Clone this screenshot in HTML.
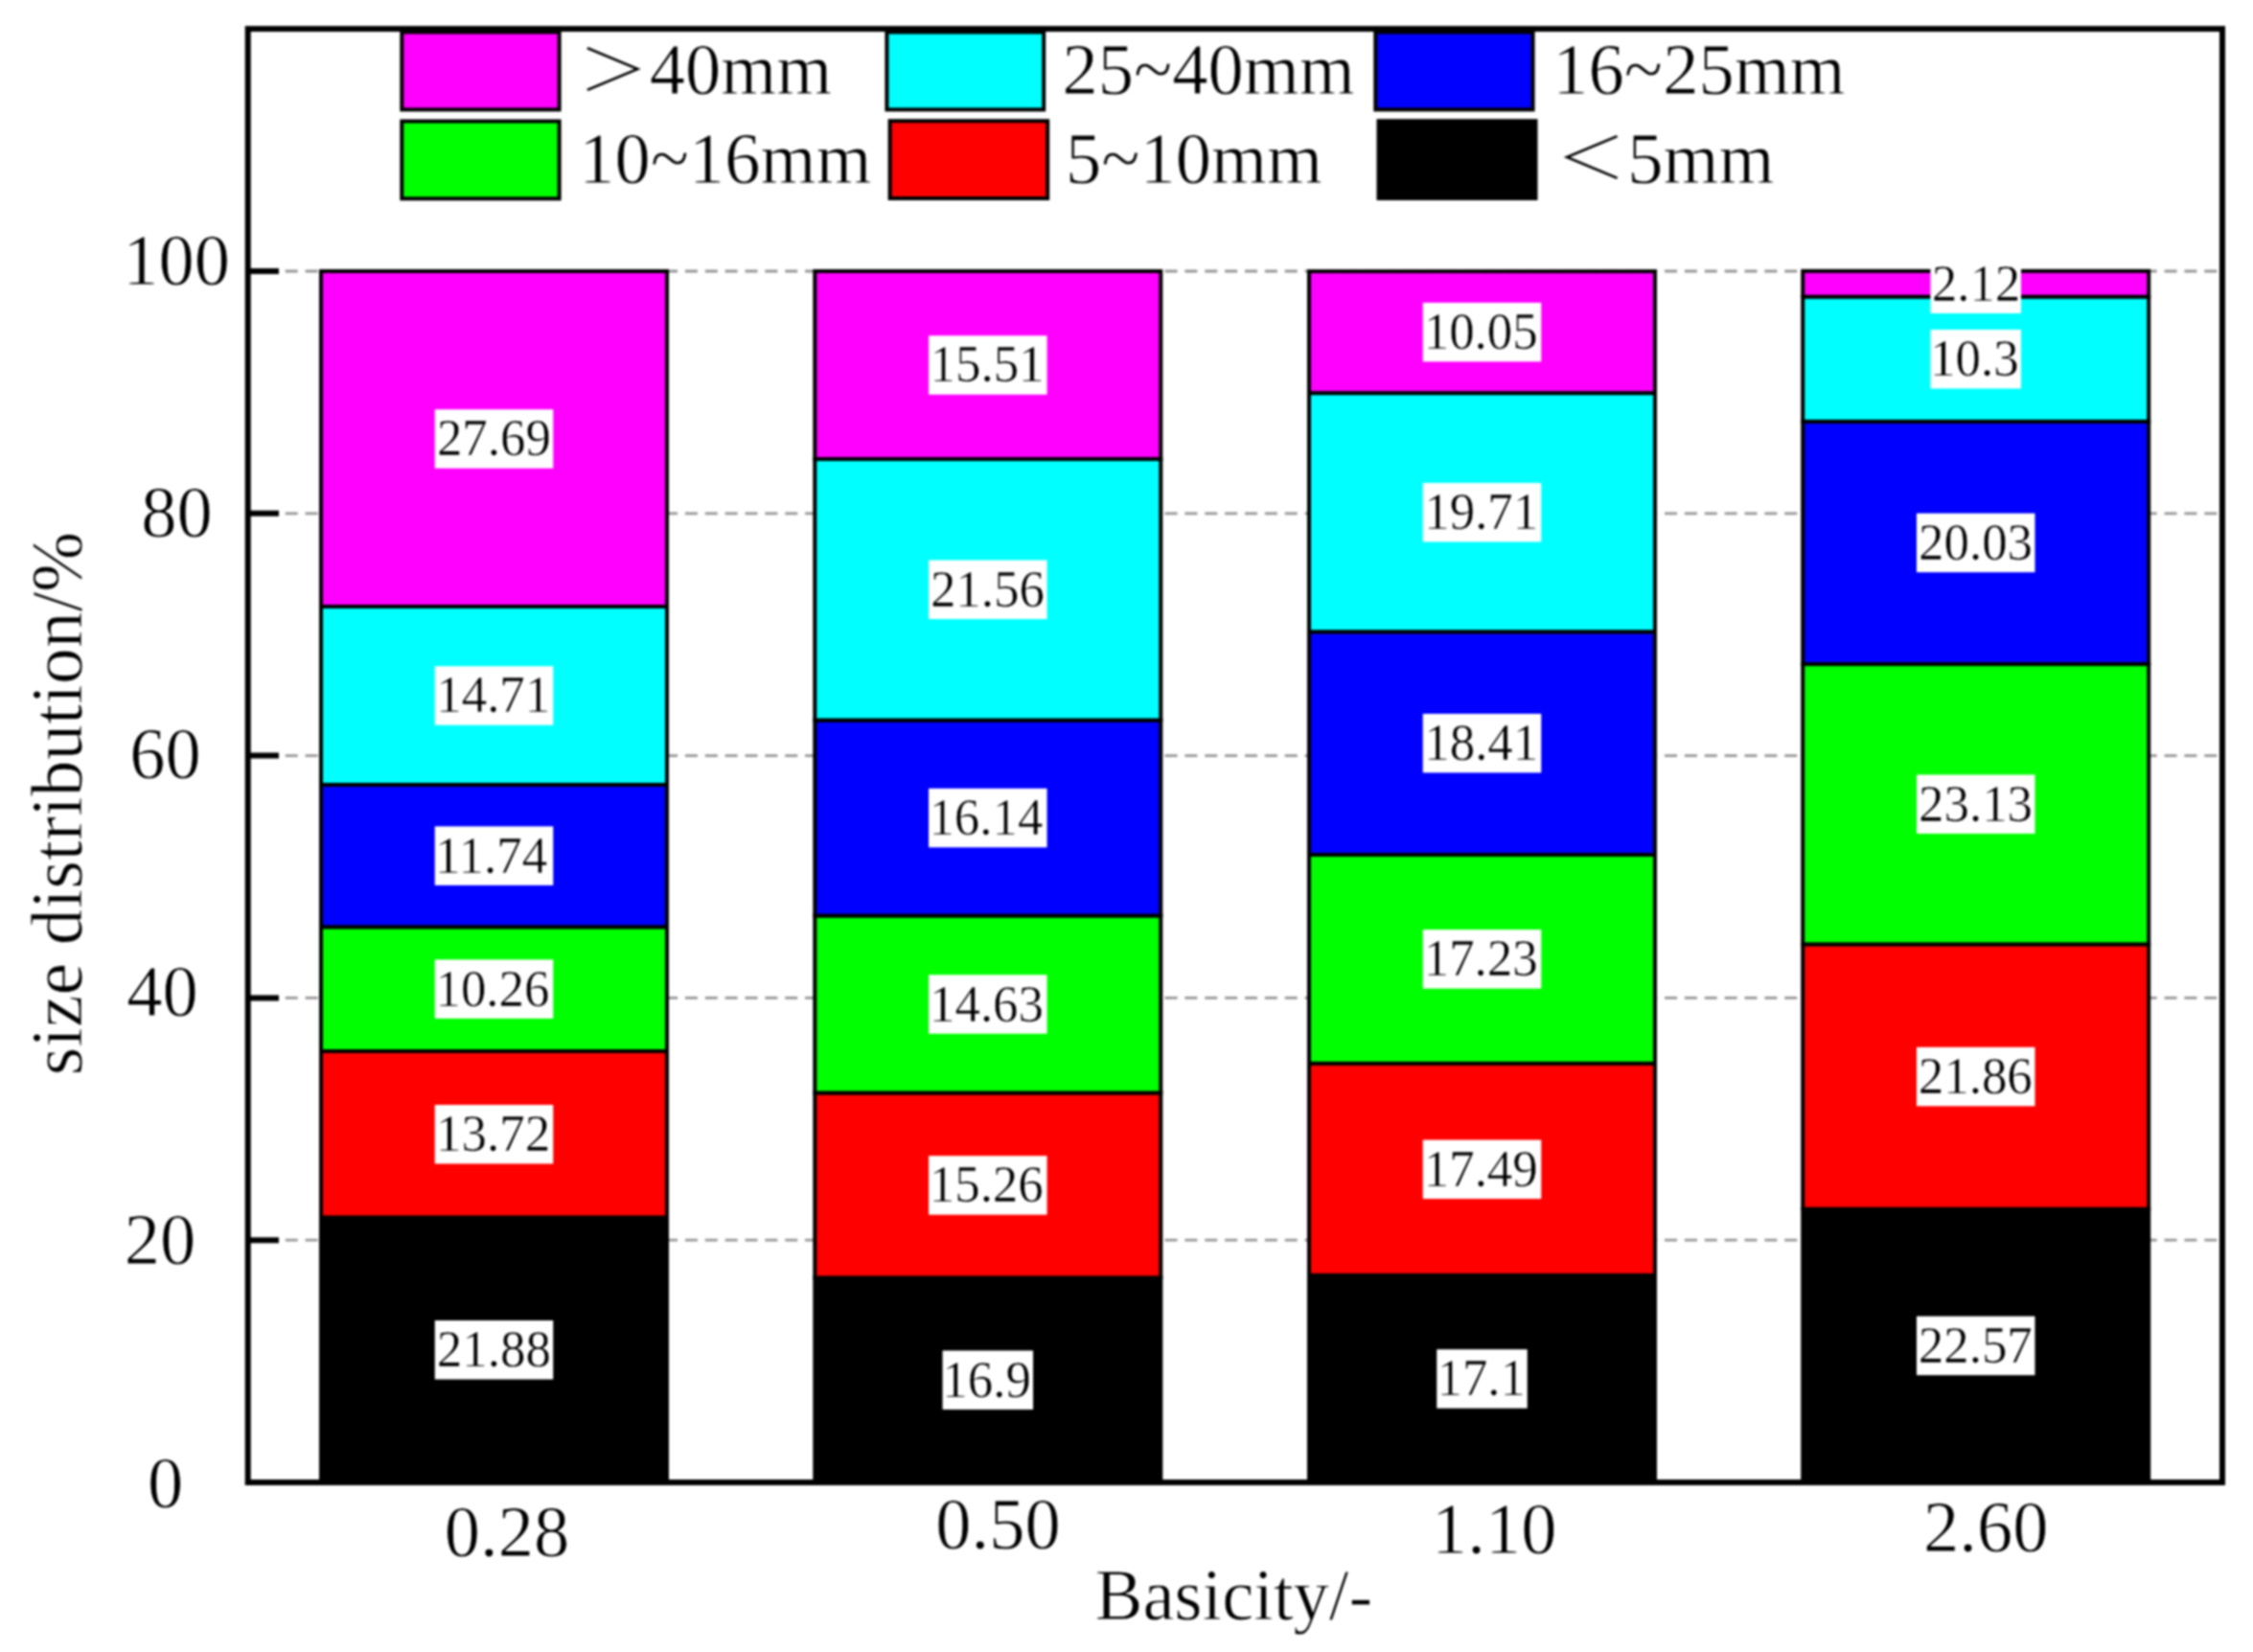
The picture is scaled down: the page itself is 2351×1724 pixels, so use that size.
<!DOCTYPE html>
<html lang="en"><head><meta charset="utf-8"><title>Size distribution vs basicity</title>
<style>html,body{margin:0;padding:0;background:#fff}body{width:2351px;height:1724px;overflow:hidden}svg{display:block;filter:blur(0.8px)}text{font-family:'Liberation Serif', serif;fill:#000;stroke:#fff;stroke-width:.8px;stroke-linejoin:round}text.d{stroke-width:.5px}text.c{stroke:none}</style>
</head><body>
<svg width="2351" height="1724" viewBox="0 0 2351 1724">
<rect x="0" y="0" width="2351" height="1724" fill="#ffffff"/>
<g stroke="#969696" stroke-width="2.8" stroke-dasharray="13 7.86" stroke-dashoffset="2.7" fill="none">
<line x1="258.7" y1="1294.20" x2="2319.0" y2="1294.20"/>
<line x1="258.7" y1="1041.40" x2="2319.0" y2="1041.40"/>
<line x1="258.7" y1="788.60" x2="2319.0" y2="788.60"/>
<line x1="258.7" y1="535.80" x2="2319.0" y2="535.80"/>
<line x1="258.7" y1="283.00" x2="2319.0" y2="283.00"/>
</g>
<g stroke="#000000" stroke-width="4.0">
<rect x="335.00" y="1270.44" width="361.00" height="276.56" fill="#000000"/>
<rect x="335.00" y="1097.02" width="361.00" height="173.42" fill="#ff0000"/>
<rect x="335.00" y="967.33" width="361.00" height="129.69" fill="#00ff00"/>
<rect x="335.00" y="818.94" width="361.00" height="148.39" fill="#0000ff"/>
<rect x="335.00" y="633.00" width="361.00" height="185.93" fill="#00ffff"/>
<rect x="335.00" y="283.00" width="361.00" height="350.00" fill="#ff00ff"/>
<rect x="850.30" y="1333.38" width="361.00" height="213.62" fill="#000000"/>
<rect x="850.30" y="1140.50" width="361.00" height="192.89" fill="#ff0000"/>
<rect x="850.30" y="955.57" width="361.00" height="184.92" fill="#00ff00"/>
<rect x="850.30" y="751.56" width="361.00" height="204.01" fill="#0000ff"/>
<rect x="850.30" y="479.05" width="361.00" height="272.52" fill="#00ffff"/>
<rect x="850.30" y="283.00" width="361.00" height="196.05" fill="#ff00ff"/>
<rect x="1366.00" y="1330.86" width="361.00" height="216.14" fill="#000000"/>
<rect x="1366.00" y="1109.78" width="361.00" height="221.07" fill="#ff0000"/>
<rect x="1366.00" y="892.00" width="361.00" height="217.79" fill="#00ff00"/>
<rect x="1366.00" y="659.29" width="361.00" height="232.70" fill="#0000ff"/>
<rect x="1366.00" y="410.16" width="361.00" height="249.13" fill="#00ffff"/>
<rect x="1366.00" y="283.13" width="361.00" height="127.03" fill="#ff00ff"/>
<rect x="1881.20" y="1261.72" width="361.00" height="285.28" fill="#000000"/>
<rect x="1881.20" y="985.40" width="361.00" height="276.31" fill="#ff0000"/>
<rect x="1881.20" y="693.04" width="361.00" height="292.36" fill="#00ff00"/>
<rect x="1881.20" y="439.86" width="361.00" height="253.18" fill="#0000ff"/>
<rect x="1881.20" y="309.67" width="361.00" height="130.19" fill="#00ffff"/>
<rect x="1881.20" y="282.87" width="361.00" height="26.80" fill="#ff00ff"/>
</g>
<rect x="453.75" y="1377.97" width="123.50" height="61.50" fill="#ffffff"/>
<text class="d" transform="translate(455.83 1426.28) scale(1 1.020)" font-size="52.9">21.88</text>
<rect x="453.75" y="1152.98" width="123.50" height="61.50" fill="#ffffff"/>
<text class="d" transform="translate(455.12 1201.21) scale(1 1.020)" font-size="52.9">13.72</text>
<rect x="453.75" y="1001.42" width="123.50" height="61.50" fill="#ffffff"/>
<text class="d" transform="translate(454.45 1049.73) scale(1 1.020)" font-size="52.9">10.26</text>
<rect x="453.75" y="862.38" width="123.50" height="61.50" fill="#ffffff"/>
<text class="d" transform="translate(454.08 910.56) scale(1 1.020)" font-size="52.9">11.74</text>
<rect x="453.75" y="695.22" width="123.50" height="61.50" fill="#ffffff"/>
<text class="d" transform="translate(455.25 743.40) scale(1 1.020)" font-size="52.9">14.71</text>
<rect x="453.75" y="427.25" width="123.50" height="61.50" fill="#ffffff"/>
<text class="d" transform="translate(455.91 475.48) scale(1 1.020)" font-size="52.9">27.69</text>
<rect x="983.55" y="1409.44" width="94.50" height="61.50" fill="#ffffff"/>
<text class="d" transform="translate(983.27 1457.67) scale(1 1.020)" font-size="52.9">16.9</text>
<rect x="969.05" y="1206.19" width="123.50" height="61.50" fill="#ffffff"/>
<text class="d" transform="translate(969.75 1254.42) scale(1 1.020)" font-size="52.9">15.26</text>
<rect x="969.05" y="1017.29" width="123.50" height="61.50" fill="#ffffff"/>
<text class="d" transform="translate(970.00 1065.52) scale(1 1.020)" font-size="52.9">14.63</text>
<rect x="969.05" y="822.82" width="123.50" height="61.50" fill="#ffffff"/>
<text class="d" transform="translate(969.38 871.05) scale(1 1.020)" font-size="52.9">16.14</text>
<rect x="969.05" y="584.56" width="123.50" height="61.50" fill="#ffffff"/>
<text class="d" transform="translate(970.91 632.79) scale(1 1.020)" font-size="52.9">21.56</text>
<rect x="969.05" y="350.27" width="123.50" height="61.50" fill="#ffffff"/>
<text class="d" transform="translate(970.55 398.45) scale(1 1.020)" font-size="52.9">15.51</text>
<rect x="1499.25" y="1408.18" width="94.50" height="61.50" fill="#ffffff"/>
<text class="d" transform="translate(1499.48 1456.36) scale(1 1.020)" font-size="52.9">17.1</text>
<rect x="1484.75" y="1189.57" width="123.50" height="61.50" fill="#ffffff"/>
<text class="d" transform="translate(1485.75 1237.80) scale(1 1.020)" font-size="52.9">17.49</text>
<rect x="1484.75" y="970.14" width="123.50" height="61.50" fill="#ffffff"/>
<text class="d" transform="translate(1485.70 1018.37) scale(1 1.020)" font-size="52.9">17.23</text>
<rect x="1484.75" y="744.89" width="123.50" height="61.50" fill="#ffffff"/>
<text class="d" transform="translate(1486.25 793.20) scale(1 1.020)" font-size="52.9">18.41</text>
<rect x="1484.75" y="503.98" width="123.50" height="61.50" fill="#ffffff"/>
<text class="d" transform="translate(1486.25 552.21) scale(1 1.020)" font-size="52.9">19.71</text>
<rect x="1484.75" y="315.89" width="123.50" height="61.50" fill="#ffffff"/>
<text class="d" transform="translate(1485.70 364.20) scale(1 1.020)" font-size="52.9">10.05</text>
<rect x="1999.95" y="1373.61" width="123.50" height="61.50" fill="#ffffff"/>
<text class="d" transform="translate(2001.79 1421.84) scale(1 1.020)" font-size="52.9">22.57</text>
<rect x="1999.95" y="1092.81" width="123.50" height="61.50" fill="#ffffff"/>
<text class="d" transform="translate(2001.81 1141.12) scale(1 1.020)" font-size="52.9">21.86</text>
<rect x="1999.95" y="808.47" width="123.50" height="61.50" fill="#ffffff"/>
<text class="d" transform="translate(2002.06 856.70) scale(1 1.020)" font-size="52.9">23.13</text>
<rect x="1999.95" y="535.70" width="123.50" height="61.50" fill="#ffffff"/>
<text class="d" transform="translate(2002.06 584.01) scale(1 1.020)" font-size="52.9">20.03</text>
<rect x="2014.45" y="344.02" width="94.50" height="61.50" fill="#ffffff"/>
<text class="d" transform="translate(2014.12 392.33) scale(1 1.020)" font-size="52.9">10.3</text>
<rect x="2014.45" y="265.52" width="94.50" height="61.50" fill="#ffffff"/>
<text class="d" transform="translate(2015.71 313.75) scale(1 1.020)" font-size="52.9">2.12</text>
<rect x="258.70" y="30.10" width="2060.30" height="1516.90" fill="none" stroke="#000" stroke-width="6.0"/>
<g stroke="#000" stroke-width="6" fill="none">
<line x1="258.7" y1="1294.20" x2="291.0" y2="1294.20"/>
<line x1="258.7" y1="1041.40" x2="291.0" y2="1041.40"/>
<line x1="258.7" y1="788.60" x2="291.0" y2="788.60"/>
<line x1="258.7" y1="535.80" x2="291.0" y2="535.80"/>
<line x1="258.7" y1="283.00" x2="291.0" y2="283.00"/>
</g>
<g stroke="#000" stroke-width="4">
<rect x="419.30" y="33.50" width="164.30" height="80.90" fill="#ff00ff"/>
<rect x="925.40" y="33.50" width="163.80" height="80.90" fill="#00ffff"/>
<rect x="1435.30" y="33.50" width="164.30" height="80.90" fill="#0000ff"/>
<rect x="419.30" y="126.50" width="164.30" height="80.80" fill="#00ff00"/>
<rect x="928.60" y="126.20" width="164.60" height="80.80" fill="#ff0000"/>
<rect x="1438.50" y="126.20" width="164.00" height="80.80" fill="#000000"/>
</g>
<text transform="translate(128.17 297.15) scale(1 1.020)" font-size="74.5">100</text>
<text transform="translate(147.30 560.40) scale(1 1.020)" font-size="74.5">80</text>
<text transform="translate(135.17 811.80) scale(1 1.020)" font-size="74.5">60</text>
<text transform="translate(132.34 1060.40) scale(1 1.020)" font-size="74.5">40</text>
<text transform="translate(129.78 1319.10) scale(1 1.020)" font-size="74.5">20</text>
<text transform="translate(154.07 1573.05) scale(1 1.020)" font-size="74.5">0</text>
<text transform="translate(463.81 1623.53) scale(1 1.020)" font-size="74.5">0.28</text>
<text transform="translate(976.36 1616.18) scale(1 1.020)" font-size="74.5">0.50</text>
<text transform="translate(1494.06 1620.83) scale(1 1.020)" font-size="74.5">1.10</text>
<text transform="translate(2007.09 1619.13) scale(1 1.020)" font-size="74.5">2.60</text>
<text transform="translate(1142.74 1690.00) scale(1 1.020)" font-size="74.5">Basicity/-</text>
<text transform="translate(85.30 1122.27) rotate(-90) scale(1 1.020)" font-size="75.4">size distribution/%</text>
<text class="c" transform="translate(640.60 94.01) scale(1 0.815)" font-size="74.5" text-anchor="middle" style="font-family:'Noto Serif CJK SC', 'Liberation Serif', serif;font-weight:300">＞</text>
<text transform="translate(677.84 98.30) scale(1 1.020)" font-size="74.5">40mm</text>
<text transform="translate(604.26 190.50) scale(1 1.020)" font-size="74.5">10~16mm</text>
<text transform="translate(1108.49 98.30) scale(1 1.020)" font-size="74.5">25~40mm</text>
<text transform="translate(1111.94 190.50) scale(1 1.020)" font-size="74.5">5~10mm</text>
<text transform="translate(1620.36 98.30) scale(1 1.020)" font-size="74.5">16~25mm</text>
<text class="c" transform="translate(1660.00 186.21) scale(1 0.815)" font-size="74.5" text-anchor="middle" style="font-family:'Noto Serif CJK SC', 'Liberation Serif', serif;font-weight:300">＜</text>
<text transform="translate(1698.27 190.50) scale(1 1.020)" font-size="74.5">5mm</text>
</svg></body></html>
